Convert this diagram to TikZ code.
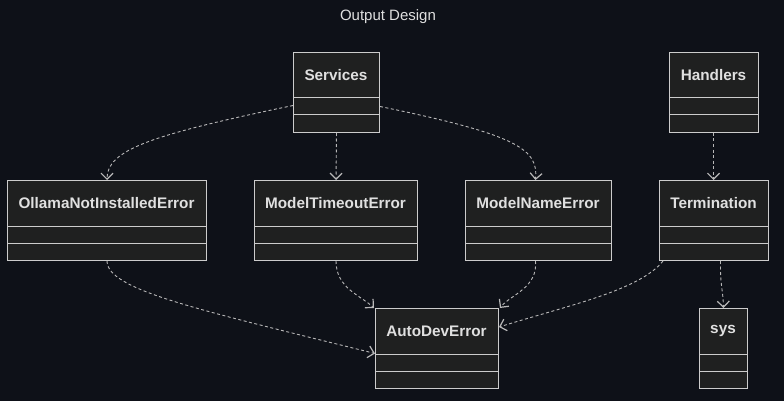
\documentclass[tikz,border=0pt]{standalone}
\usepackage{fontspec}
\setmainfont{Liberation Sans}
\usetikzlibrary{arrows.meta}
\definecolor{bg}{HTML}{0E1118}
\definecolor{boxfill}{HTML}{1F2020}
\definecolor{boxline}{HTML}{CCCCCC}
\definecolor{txt}{HTML}{E0E0E0}
\definecolor{edge}{HTML}{B8B8B8}
\tikzset{
  classbox/.style={draw=boxline, fill=boxfill, line width=1pt, inner sep=0pt, minimum height=80pt},
  classname/.style={text=txt, font=\fontsize{15.3}{18}\selectfont\bfseries, inner sep=0pt},
  divider/.style={draw=boxline, line width=1pt},
  dep/.style={draw=edge, line width=0.9pt, dash pattern=on 3pt off 2.5pt, -{Straight Barb[length=6pt,width=12pt,line width=1.2pt]}},
}
\newcommand{\classnode}[6]{% name, xl, xr, ytop, label
  \node[classbox, minimum width=#3pt-#2pt, anchor=north west] (#1) at (#2,#4) {};
  \node[classname] (#1-t) at ({(#2+#3)/2},#4+23) {#5};
  \draw[divider] (#2,#4+46) -- (#3,#4+46);
  \draw[divider] (#2,#4+63) -- (#3,#4+63);
}
\begin{document}
\begin{tikzpicture}[x=1pt,y=-1pt]
\fill[bg] (0,0) rectangle (784,401);
\useasboundingbox (0,0) rectangle (784,401);
\node[text=txt, font=\fontsize{15}{18}\selectfont] (title) at (388,16.5) {Output Design};
\classnode{services}{293}{379}{52}{Services}{}
\classnode{handlers}{669}{758}{52}{Handlers}{}
\classnode{ollama}{7}{206}{180}{OllamaNotInstalledError}{}
\classnode{timeout}{254}{417}{180}{ModelTimeoutError}{}
\classnode{name}{465}{611}{180}{ModelNameError}{}
\classnode{term}{659}{768}{180}{Termination}{}
\classnode{auto}{375}{498}{308}{AutoDevError}{}
\classnode{sys}{699}{747}{308}{sys}{}
% edges
\draw[dep] ([yshift=-13pt]services.west) .. controls (150,135) and (107,150) .. (ollama.north);
\draw[dep] (services.south) -- (timeout.north);
\draw[dep] ([yshift=-14pt]services.east) .. controls (520,135) and (538,150) .. ([xshift=-3pt]name.north);
\draw[dep] ([xshift=-0.5pt]handlers.south) -- ([xshift=-0.5pt]term.north);
\draw[dep] (ollama.south) .. controls (107,290) and (200,310) .. ([yshift=-5pt]auto.west);
\draw[dep] (timeout.south) .. controls (336,288) and (360,295) .. ([xshift=-1pt]auto.north west);
\draw[dep] ([xshift=-3pt]name.south) .. controls (538,288) and (510,295) .. ([xshift=1pt]auto.north east);
\draw[dep] ([xshift=4pt]term.south west) .. controls (640,290) and (570,305) .. ([yshift=-19pt]auto.north east);
\draw[dep] ([xshift=6.5pt]term.south) .. controls (720,285) and (723,290) .. (sys.north);
\end{tikzpicture}
\end{document}
